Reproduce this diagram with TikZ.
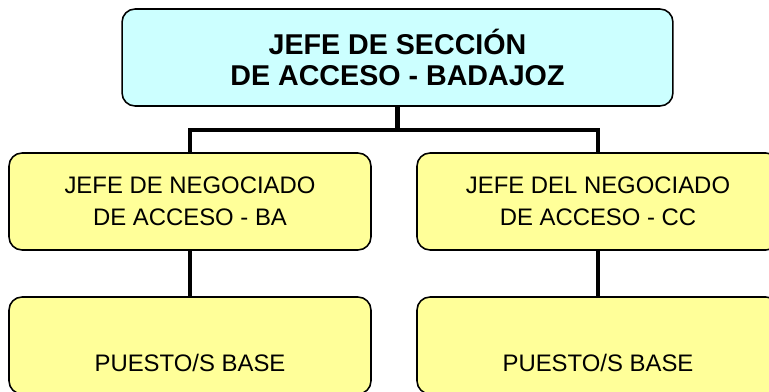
\documentclass[tikz,border=0pt]{standalone}
\usepackage{fontspec}
\setmainfont{Liberation Sans}
\definecolor{celeste}{HTML}{CCFFFF}
\definecolor{amarillo}{HTML}{FFFF99}
\begin{document}
\begin{tikzpicture}[x=0.02cm,y=-0.02cm,
    caja/.style={draw=black,line width=0.9pt,rounded corners=0.26cm,
      fill=amarillo,minimum width=7.24cm,minimum height=1.94cm,
      align=center,font=\fontsize{13.6}{18}\selectfont},
    jefe/.style={caja,fill=celeste,minimum width=11.02cm,
      font=\fontsize{16.3}{18}\selectfont\bfseries},
    base/.style={caja,text height=31pt,text depth=1pt},
    linea/.style={line width=2.8pt}]
      \clip (0,0) rectangle (769,392);
      \draw
        (397.5,57.5) node[jefe] (jefe){JEFE DE SECCIÓN\\DE ACCESO - BADAJOZ}
        (190,201.5) node[caja] (nba){JEFE DE NEGOCIADO\\DE ACCESO - BA}
        (598,201.5) node[caja] (ncc){JEFE DEL NEGOCIADO\\DE ACCESO - CC}
        (190,345.5) node[base] (pba){PUESTO/S BASE}
        (598,345.5) node[base] (pcc){PUESTO/S BASE};
      \coordinate (bus) at (397.5,130);
      \begin{scope}[linea]
        \draw (jefe) to (bus);
        \draw (nba.north) |- (bus) -| (ncc.north);
        \draw (nba) to (pba);
        \draw (ncc) to (pcc);
      \end{scope}
    \end{tikzpicture}
\end{document}
